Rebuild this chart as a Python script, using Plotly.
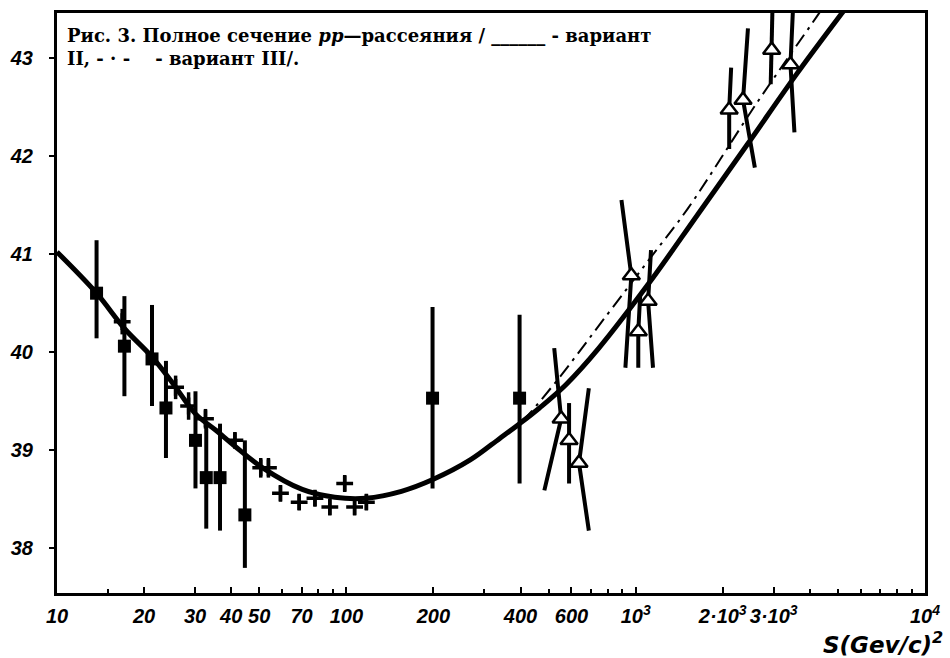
import plotly.graph_objects as go

# ---- data ----
# variant II (solid curve)
curve2_s = [10, 13.7, 17.1, 21.3, 25.3, 30.1, 35.5, 41.2, 51.4, 70.4, 91.2, 117, 155, 199, 268,
            339, 397, 465, 575, 746, 1104, 1637, 2424, 3594, 5121, 6232]
curve2_v = [41.02, 40.60, 40.24, 39.95, 39.67, 39.37, 39.20, 39.04, 38.82, 38.60, 38.52, 38.51,
            38.58, 38.70, 38.90, 39.12, 39.27, 39.43, 39.67, 40.04, 40.69, 41.40, 42.11, 42.83,
            43.44, 43.77]
# variant III (dash-dot curve)
curve3_s = [339, 397, 515, 806, 1131, 1512, 2624, 4272, 4922]
curve3_v = [39.12, 39.27, 39.65, 40.40, 40.97, 41.46, 42.54, 43.44, 43.71]

# filled squares
sq_s = [13.7, 17.1, 21.3, 23.8, 30.1, 32.8, 36.6, 44.6, 198.6, 397]
sq_v = [40.60, 40.06, 39.93, 39.43, 39.10, 38.72, 38.72, 38.34, 39.53, 39.53]
sq_err_up = [0.54, 0.51, 0.55, 0.48, 0.50, 0.56, 0.55, 0.76, 0.93, 0.85]
sq_err_dn = [0.46, 0.51, 0.48, 0.51, 0.49, 0.52, 0.54, 0.54, 0.92, 0.87]

# crosses
cr_s = [16.8, 25.7, 28.5, 32.6, 41.2, 50.6, 53.8, 59.2, 68.7, 77.9, 87.7, 98.7, 106.8, 117.3]
cr_v = [40.31, 39.64, 39.45, 39.32, 39.10, 38.82, 38.82, 38.56, 38.47, 38.51, 38.42, 38.66,
        38.42, 38.47]
cr_err = [0.13, 0.12, 0.14, 0.10, 0.08, 0.10, 0.10, 0.08, 0.08, 0.08, 0.08, 0.08, 0.08, 0.08]

# open triangles with slanted error bars (ends of the bars)
tri_s = [552.7, 588.6, 636.9, 966, 1021, 1104, 2105, 2350, 2952, 3428]
tri_v = [39.32, 39.10, 38.87, 40.78, 40.21, 40.52, 42.47, 42.57, 43.08, 42.93]
tri_top_s = [523, 588.6, 688.9, 893, 1037, 1130, 2138, 2444, 2976, 3510]
tri_top_v = [40.04, 39.48, 39.63, 41.55, 40.59, 41.04, 42.90, 43.30, 43.60, 43.60]
tri_bot_s = [483.5, 588.6, 688.9, 921.5, 1021, 1148, 2105, 2582, 2929, 3538]
tri_bot_v = [38.59, 38.66, 38.18, 39.84, 39.84, 39.84, 42.07, 41.88, 42.73, 42.24]

x_tickvals = [10, 20, 30, 40, 50, 70, 100, 200, 400, 600, 1000, 2000, 3000, 10000]
x_ticktext = ["10", "20", "30", "40", "50", "70", "100", "200", "400", "600",
              "10<sup>3</sup>", "2·10<sup>3</sup>", "3·10<sup>3</sup>", "10<sup>4</sup>"]
x_minor = [15, 60, 80, 90, 300, 500, 700, 800, 900, 4000, 5000, 6000, 7000, 8000, 9000]
y_tickvals = [38, 39, 40, 41, 42, 43]

fig = go.Figure()

fig.add_trace(go.Scatter(x=curve2_s, y=curve2_v, mode="lines",
                         line=dict(color="black", width=5, shape="spline", smoothing=1)))
fig.add_trace(go.Scatter(x=curve3_s, y=curve3_v, mode="lines",
                         line=dict(color="black", width=2, shape="spline", smoothing=1,
                                   dash="14px,6px,3px,6px")))

fig.add_trace(go.Scatter(x=sq_s, y=sq_v, mode="markers",
                         marker=dict(symbol="square", size=13, color="black"),
                         error_y=dict(type="data", symmetric=False, array=sq_err_up,
                                      arrayminus=sq_err_dn, thickness=4, width=0,
                                      color="black")))

fig.add_trace(go.Scatter(x=cr_s, y=cr_v, mode="markers",
                         marker=dict(symbol="cross-thin", size=12,
                                     line=dict(color="black", width=3.5)),
                         error_y=dict(type="data", array=cr_err, thickness=3.5, width=0,
                                      color="black")))

bx, by = [], []
for i in range(len(tri_s)):
    bx += [tri_top_s[i], tri_s[i], tri_bot_s[i], None]
    by += [tri_top_v[i], tri_v[i], tri_bot_v[i], None]
fig.add_trace(go.Scatter(x=bx, y=by, mode="lines", line=dict(color="black", width=4)))
fig.add_trace(go.Scatter(x=tri_s, y=tri_v, mode="markers",
                         marker=dict(symbol="triangle-up", size=15, color="white",
                                     line=dict(color="black", width=2.5))))

tick_font = dict(family="Liberation Sans", size=20, color="black", weight="bold", style="italic")

fig.update_layout(
    width=950, height=658,
    margin=dict(l=52, r=19, t=10, b=65),
    paper_bgcolor="white", plot_bgcolor="white",
    showlegend=False,
    xaxis=dict(type="log", range=[1, 4], tickvals=x_tickvals, ticktext=x_ticktext,
               tickangle=0,
               ticks="inside", ticklen=6, tickwidth=2, tickcolor="black",
               showline=True, linecolor="black", linewidth=3, mirror=True,
               showgrid=False, zeroline=False, tickfont=tick_font, ticklabelstandoff=3,
               minor=dict(tickvals=x_minor, ticks="inside", ticklen=4, tickwidth=2,
                          tickcolor="black", showgrid=False)),
    yaxis=dict(range=[37.544, 43.456], tickvals=y_tickvals,
               ticks="outside", ticklen=5, tickwidth=2, tickcolor="black",
               showline=True, linecolor="black", linewidth=3, mirror=True,
               showgrid=False, zeroline=False, tickfont=tick_font, ticklabelstandoff=12),
)

title_font = dict(family="DejaVu Serif", size=18, color="black", weight="bold")
fig.add_annotation(xref="paper", yref="paper", x=0, y=1, xanchor="left", yanchor="middle",
                   xshift=8, yshift=-22, showarrow=False, font=title_font,
                   text="Рис. 3. Полное сечение <i>pp</i>—рассеяния / ______ - вариант")
fig.add_annotation(xref="paper", yref="paper", x=0, y=1, xanchor="left", yanchor="middle",
                   xshift=8, yshift=-45, showarrow=False, font=title_font,
                   text="II, - · -    - вариант III/.")
fig.add_annotation(xref="paper", yref="paper", x=1, y=0, xanchor="right", yanchor="top",
                   xshift=20, yshift=-33, showarrow=False,
                   font=dict(family="DejaVu Sans", size=23, color="black", weight="bold",
                             style="italic"),
                   text="S(Gev/c)<sup>2</sup>")

fig.write_html("out.html")
